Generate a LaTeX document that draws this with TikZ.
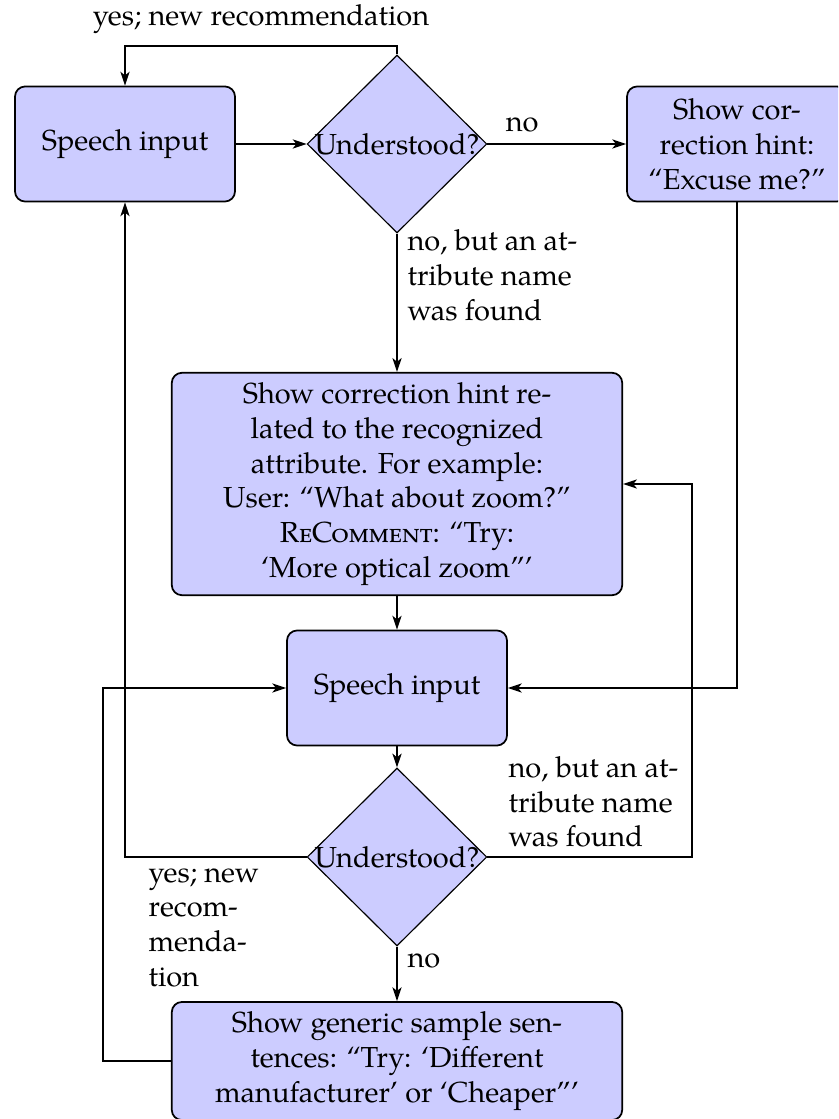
\documentclass[tikz,border=0pt]{standalone}
\usepackage{fontspec}
\setmainfont{TeX Gyre Pagella}
\usetikzlibrary{shapes.geometric,arrows.meta}
\tikzset{
  box/.style={draw, semithick, fill=blue!20, rounded corners=3.5pt, align=center,
    minimum width=75.9pt, minimum height=39.7pt, inner sep=3.33pt},
  bigbox/.style={box, minimum width=155.4pt},
  dec/.style={draw, fill=blue!20, diamond, inner sep=0pt,
    minimum width=62pt, minimum height=61.4pt},
  arr/.style={-{Stealth[length=4.8pt,width=3.2pt,inset=1.3pt]}, line width=0.45pt},
  lbl/.style={inner sep=0pt, align=left}
}
\begin{document}
\begin{tikzpicture}[x=0.345pt,y=-0.345pt]
\useasboundingbox (0,0) rectangle (838,1119);
\clip (0,0) rectangle (838,1119);
% nodes
\node[box] (sp1) at (125,144) {Speech input};
\node[dec] (d1) at (397,144) {\makebox[0pt]{Understood?}};
\node[box] (c1) at (737,144) {Show cor-\\rection hint:\\``Excuse me?''};
\node[bigbox, minimum height=76.6pt] (big) at (397,484) {Show correction hint re-\\lated to the recognized\\attribute. For example:\\User: ``What about zoom?''\\\textsc{ReComment}: ``Try:\\`More optical zoom'''};
\node[box] (sp2) at (397,688) {Speech input};
\node[dec] (d2) at (397,857) {\makebox[0pt]{Understood?}};
\node[bigbox] (bot) at (397,1061) {Show generic sample sen-\\tences: ``Try: `Different\\manufacturer' or `Cheaper'''};
% corner coordinates
\coordinate (tB) at (397,46);
\coordinate (tA) at (125,46);
\coordinate (cR) at (692,857);
\coordinate (cL) at (125,857);
\coordinate (cB) at (103,688);
% connectors
\draw[arr] (d1.north) -- (tB) -- node[above, inner sep=4pt] {yes; new recommendation} (tA) -- (sp1.north);
\draw[arr] (sp1.east) -- (d1.west);
\draw[arr] (d1.east) -- node[pos=0.25, above, inner sep=4pt] {no} (c1.west);
\draw[arr] (d1.south) -- (big.north);
\node[lbl, anchor=north west] (l1) at (407,229) {no, but an at-\\tribute name\\was found};
\draw[arr] (big.south) -- (sp2.north);
\draw[arr] (c1.south) |- (sp2.east);
\draw[arr] (sp2.south) -- (d2.north);
\draw[arr] (d2.east) -- (cR) |- (big.east);
\node[lbl, anchor=south west] (l2) at (508,848) {no, but an at-\\tribute name\\was found};
\draw[arr] (d2.west) -- (cL) -- (sp1.south);
\node[lbl, anchor=north west] (l3) at (148,868) {yes; new\\recom-\\menda-\\tion};
\draw[arr] (d2.south) -- (bot.north);
\node[lbl, anchor=north west] (l4) at (407,953) {no};
\draw[arr] (bot.west) -| (cB) -- (sp2.west);
\end{tikzpicture}
\end{document}
